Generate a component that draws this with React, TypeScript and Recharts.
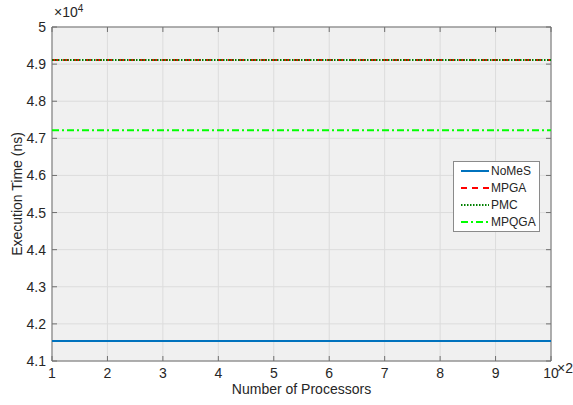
import { ComposedChart, Line, XAxis, YAxis, CartesianGrid, ReferenceArea } from 'recharts'

// processors (x axis)
const processors = [1, 2, 3, 4, 5, 6, 7, 8, 9, 10]

// execution time (ns) per method
const nomes = [41540, 41540, 41540, 41540, 41540, 41540, 41540, 41540, 41540, 41540]
const mpga = [49110, 49110, 49110, 49110, 49110, 49110, 49110, 49110, 49110, 49110]
const pmc = [49110, 49110, 49110, 49110, 49110, 49110, 49110, 49110, 49110, 49110]
const mpqga = [47220, 47220, 47220, 47220, 47220, 47220, 47220, 47220, 47220, 47220]

const yTicks = [41000, 42000, 43000, 44000, 45000, 46000, 47000, 48000, 49000, 50000]

const series = [
  { key: 'NoMeS', color: '#0072BD', dash: undefined, width: 2 },
  { key: 'MPGA', color: '#FF0000', dash: '6 5', width: 2 },
  { key: 'PMC', color: '#008000', dash: '1.5 1.5', width: 2 },
  { key: 'MPQGA', color: '#00FF00', dash: '7 3 2 3', width: 2 },
]

const data = processors.map((p, i) => ({
  p,
  NoMeS: nomes[i],
  MPGA: mpga[i],
  PMC: pmc[i],
  MPQGA: mpqga[i],
}))

const FONT = 'Liberation Sans, Arial, sans-serif'
const TXT = '#262626'
const AX = '#707070'
const PW = 499
const PH = 334

function XTick(props: any) {
  const { x, y, payload } = props
  return (
    <g>
      <line x1={x} x2={x} y1={y} y2={y - 5} stroke={AX} />
      <line x1={x} x2={x} y1={y - PH} y2={y - PH + 5} stroke={AX} />
      <text x={x} y={y + 17} textAnchor="middle" fill={TXT} fontSize={14} fontFamily={FONT}>
        {payload.value}
      </text>
    </g>
  )
}

function YTick(props: any) {
  const { x, y, payload } = props
  const v = payload.value / 10000
  const label = Number.isInteger(v) ? String(v) : v.toFixed(1)
  return (
    <g>
      <line x1={x} x2={x + 5} y1={y} y2={y} stroke={AX} />
      <line x1={x + PW} x2={x + PW - 5} y1={y} y2={y} stroke={AX} />
      <text x={x - 6} y={y + 5} textAnchor="end" fill={TXT} fontSize={14} fontFamily={FONT}>
        {label}
      </text>
    </g>
  )
}

function LegendBox() {
  return (
    <div
      style={{
        position: 'absolute',
        left: 453,
        top: 161,
        background: '#fff',
        border: '1px solid #8a8a8a',
        padding: '1px 2px 1px 6px',
        fontFamily: FONT,
        fontSize: 12,
        color: TXT,
        width: 77,
      }}
    >
      {series.map((s) => (
        <div key={s.key} style={{ display: 'flex', alignItems: 'center', height: 16.8 }}>
          <svg width={30} height={6} style={{ marginRight: 1 }}>
            <line x1={1} x2={29} y1={3} y2={3} stroke={s.color} strokeWidth={s.width} strokeDasharray={s.dash} />
          </svg>
          <span>{s.key}</span>
        </div>
      ))}
    </div>
  )
}

export default function App() {
  return (
    <div style={{ position: 'absolute', left: 0, top: 0, width: 573, height: 405, background: '#fff', overflow: 'hidden' }}>
      <ComposedChart width={573} height={405} data={data} margin={{ top: 27, right: 22, bottom: 0, left: 0 }}>
        <CartesianGrid stroke="#dcdcdc" fill="#f0f0f0" verticalValues={processors} horizontalValues={yTicks} />
        <XAxis
          dataKey="p"
          type="number"
          domain={[1, 10]}
          ticks={processors}
          height={44}
          axisLine={false}
          tickLine={false}
          tickSize={0}
          tickMargin={0}
          tick={<XTick />}
          interval={0}
        />
        <YAxis
          type="number"
          domain={[41000, 50000]}
          ticks={yTicks}
          width={52}
          axisLine={false}
          tickLine={false}
          tickSize={0}
          tickMargin={0}
          tick={<YTick />}
          interval={0}
        />
        <ReferenceArea x1={1} x2={10} y1={41000} y2={50000} fill="none" stroke={AX} strokeWidth={1} ifOverflow="visible" />
        {series.map((s) => (
          <Line
            key={s.key}
            dataKey={s.key}
            stroke={s.color}
            strokeWidth={s.width}
            strokeDasharray={s.dash}
            dot={false}
            activeDot={false}
            isAnimationActive={false}
          />
        ))}
      </ComposedChart>
      <LegendBox />
      <div style={{ position: 'absolute', left: 54, top: 4, fontFamily: FONT, fontSize: 14, color: TXT, lineHeight: '16px' }}>
        ×10<span style={{ fontSize: 10, position: 'relative', top: -5 }}>4</span>
      </div>
      <div style={{ position: 'absolute', left: 557, top: 360, fontFamily: FONT, fontSize: 14, color: TXT }}>×2</div>
      <div style={{ position: 'absolute', left: 0, top: 381, width: 573, textAlign: 'center', paddingLeft: 30, boxSizing: 'border-box', fontFamily: FONT, fontSize: 14, color: TXT }}>
        Number of Processors
      </div>
      <div
        style={{
          position: 'absolute',
          left: 17,
          top: 194,
          transform: 'translate(-50%, -50%) rotate(-90deg)',
          whiteSpace: 'nowrap',
          fontFamily: FONT,
          fontSize: 14,
          color: TXT,
        }}
      >
        Execution Time (ns)
      </div>
    </div>
  )
}
